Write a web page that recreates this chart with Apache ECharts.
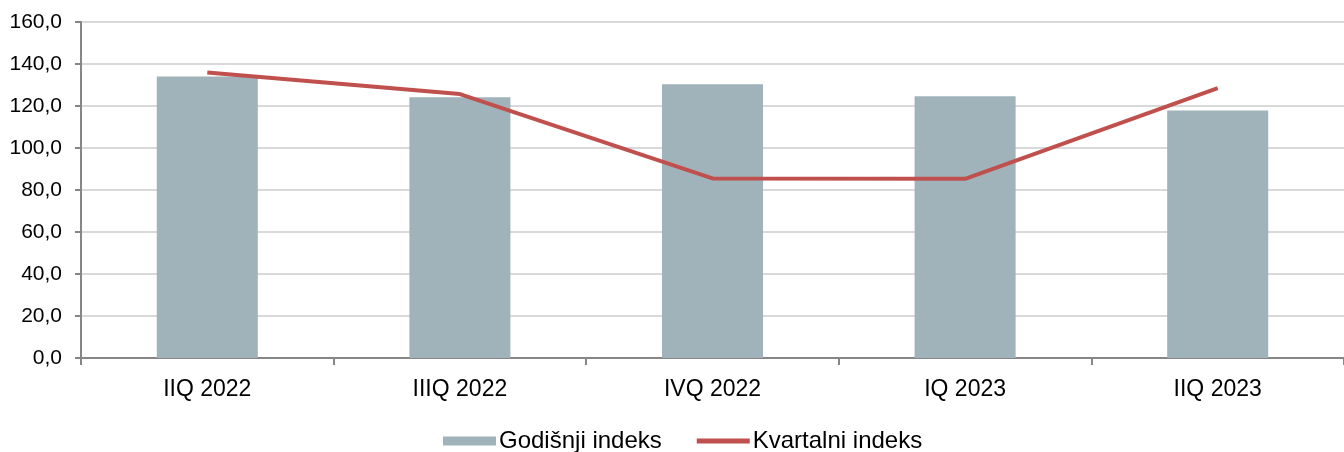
<!DOCTYPE html>
<html>
<head>
<meta charset="utf-8">
<script src="https://cdn.jsdelivr.net/npm/echarts@6/dist/echarts.min.js"></script>
<style>
  html, body { margin: 0; padding: 0; background: #fff; }
  #chart { width: 1344px; height: 452px; }
</style>
</head>
<body>
<div id="chart"></div>
<script>
var categories = ['IIQ 2022', 'IIIQ 2022', 'IVQ 2022', 'IQ 2023', 'IIQ 2023'];
var godisnji = [134.1, 124.2, 130.4, 124.7, 117.9];
var kvartalni = [136.0, 125.7, 85.5, 85.3, 128.5];

var chart = echarts.init(document.getElementById('chart'));
chart.setOption({
  animation: false,
  textStyle: { fontFamily: 'Liberation Sans, Arial, sans-serif' },
  legend: {
    top: 429,
    left: 443,
    padding: 0,
    itemWidth: 53,
    itemHeight: 9,
    itemGap: 35,
    textStyle: { fontSize: 24, color: '#000', padding: [0, 0, 0, -2] },
    data: [
      { name: 'Godišnji indeks', icon: 'rect' },
      { name: 'Kvartalni indeks', icon: 'path://M0,0 L50,0 L50,4.5 L0,4.5 Z' }
    ]
  },
  grid: {
    left: 81,
    top: 22,
    width: 1270,
    height: 336,
    containLabel: false
  },
  xAxis: {
    type: 'category',
    data: categories,
    boundaryGap: true,
    axisLine: { lineStyle: { color: '#868686', width: 2 } },
    axisTick: { show: true, length: 7, lineStyle: { color: '#868686', width: 2 } },
    axisLabel: { fontSize: 23, color: '#000', margin: 20 }
  },
  yAxis: {
    type: 'value',
    min: 0,
    max: 160,
    interval: 20,
    axisLine: { show: true, lineStyle: { color: '#868686', width: 2 } },
    axisTick: { show: true, length: 6, lineStyle: { color: '#868686', width: 2 } },
    axisLabel: {
      fontSize: 21,
      color: '#000',
      margin: 19,
      formatter: function (v) { return v.toFixed(1).replace('.', ','); }
    },
    splitLine: { lineStyle: { color: '#d9d9d9', width: 2 } }
  },
  series: [
    {
      name: 'Godišnji indeks',
      type: 'bar',
      data: godisnji,
      barWidth: '40%',
      itemStyle: { color: '#a1b3ba' }
    },
    {
      name: 'Kvartalni indeks',
      type: 'line',
      data: kvartalni,
      symbol: 'none',
      lineStyle: { color: '#c0504d', width: 4 },
      itemStyle: { color: '#c0504d' }
    }
  ]
});
</script>
</body>
</html>
